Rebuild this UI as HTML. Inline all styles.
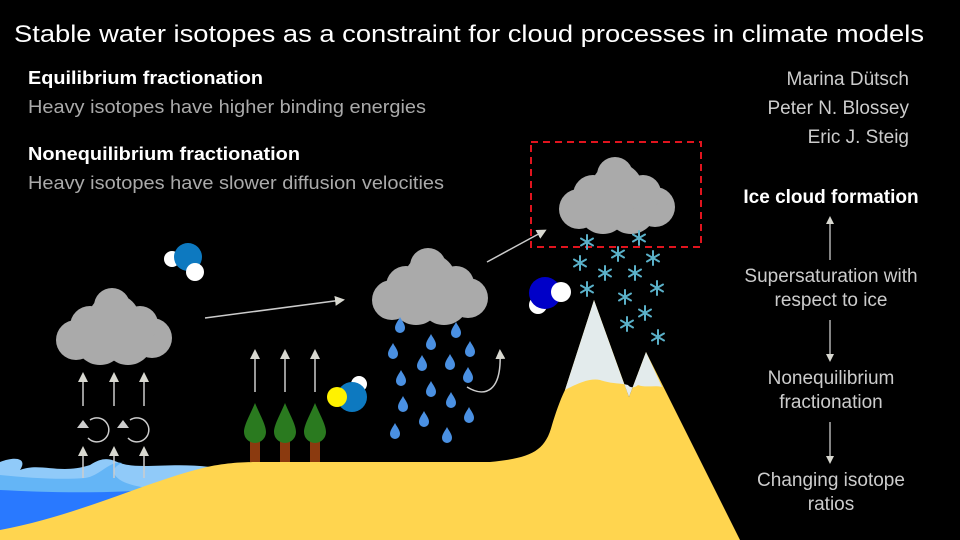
<!DOCTYPE html>
<html><head><meta charset="utf-8"><style>
html,body{margin:0;padding:0;background:#000;width:960px;height:540px;overflow:hidden}
svg{display:block}
text{font-family:"Liberation Sans",Arial,sans-serif}
</style></head><body>
<svg width="960" height="540" viewBox="0 0 960 540" xmlns="http://www.w3.org/2000/svg">
<defs>
<marker id="ah" markerWidth="8" markerHeight="8" refX="6" refY="4" orient="auto" markerUnits="userSpaceOnUse"><path d="M0,0 L8,4 L0,8 Z" fill="#d8d8d0"/></marker>
<marker id="ah2" markerWidth="10" markerHeight="10" refX="7" refY="5" orient="auto" markerUnits="userSpaceOnUse"><path d="M0,0 L10,5 L0,10 Z" fill="#d8d8d0"/></marker>
<g id="cloud" fill="#aaaaaa">
<circle cx="-38" cy="10" r="20"/><circle cx="38" cy="8" r="20"/>
<circle cx="-14" cy="10" r="25"/><circle cx="14" cy="10" r="25"/>
<circle cx="0" cy="-10" r="26"/><circle cx="-24" cy="-4" r="20"/><circle cx="26" cy="-6" r="18"/>
<circle cx="-2" cy="-24" r="18"/>
</g>
<path id="drop" d="M0,-8 C2,-4 5,-1 5,3 A5,5 0 0 1 -5,3 C-5,-1 -2,-4 0,-8Z" fill="#4a90e2"/>
<g id="flake" stroke="#5ab0c8" stroke-width="2" stroke-linecap="round"><line x1="0" y1="-7" x2="0" y2="7"/><line x1="-6" y1="-3.5" x2="6" y2="3.5"/><line x1="-6" y1="3.5" x2="6" y2="-3.5"/></g>
</defs>

<text x="14" y="42" font-size="24" fill="#fff" textLength="910" lengthAdjust="spacingAndGlyphs">Stable water isotopes as a constraint for cloud processes in climate models</text>
<text x="28" y="84" font-size="18" font-weight="bold" fill="#fff" textLength="235" lengthAdjust="spacingAndGlyphs">Equilibrium fractionation</text>
<text x="28" y="113" font-size="18" fill="#aaa" textLength="398" lengthAdjust="spacingAndGlyphs">Heavy isotopes have higher binding energies</text>
<text x="28" y="160" font-size="18" font-weight="bold" fill="#fff" textLength="272" lengthAdjust="spacingAndGlyphs">Nonequilibrium fractionation</text>
<text x="28" y="189" font-size="18" fill="#aaa" textLength="416" lengthAdjust="spacingAndGlyphs">Heavy isotopes have slower diffusion velocities</text>

<g font-size="19" fill="#ccc" text-anchor="end">
<text x="909" y="85">Marina Dütsch</text>
<text x="909" y="114">Peter N. Blossey</text>
<text x="909" y="143">Eric J. Steig</text>
</g>
<g font-size="19" text-anchor="middle" fill="#ccc">
<text x="831" y="203" font-weight="bold" fill="#fff">Ice cloud formation</text>
<text x="831" y="282">Supersaturation with</text>
<text x="831" y="306">respect to ice</text>
<text x="831" y="384">Nonequilibrium</text>
<text x="831" y="408">fractionation</text>
<text x="831" y="486">Changing isotope</text>
<text x="831" y="510">ratios</text>
</g>
<g stroke="#ccc" stroke-width="1.3" fill="none">
<line x1="830" y1="260" x2="830" y2="218" marker-end="url(#ah)"/>
<line x1="830" y1="320" x2="830" y2="360" marker-end="url(#ah)"/>
<line x1="830" y1="422" x2="830" y2="462" marker-end="url(#ah)"/>
</g>

<!-- sea -->
<path d="M0,462 C15,456 28,458 20,470 C40,462 60,475 90,465 C105,455 112,460 120,463 C140,470 170,462 210,467 L210,540 L0,540Z" fill="#90caf9"/>
<path d="M0,475 C30,478 60,480 85,478 C100,476 110,460 122,463 C105,470 115,485 150,488 L150,540 L0,540Z" fill="#64b5f6"/>
<path d="M0,490 C40,492 90,494 150,490 L150,540 L0,540Z" fill="#2979ff"/>

<!-- ground -->
<path d="M0,530 C80,515 150,480 207,467 C230,462 250,462 260,462 L490,462 C530,458 545,452 552,425 C555,415 560,400 565,390 L594,300 L629,397 L646,352 L740,540 L0,540Z" fill="#ffd54f"/>
<path d="M565,390 L594,300 L622,378 L629,397 L646,352 L662,387 C655,385 645,388 638,385 C635,388 630,388 628,385 C620,383 612,384 600,380 C590,378 578,383 565,390Z" fill="#e3ebec"/>

<!-- trees -->
<g>
<rect x="250" y="440" width="10" height="22" fill="#8b3a0f"/><rect x="280" y="440" width="10" height="22" fill="#8b3a0f"/><rect x="310" y="440" width="10" height="22" fill="#8b3a0f"/>
<path d="M255,403 C260,415 266,425 266,432 A11,11 0 0 1 244,432 C244,425 250,415 255,403Z" fill="#2a7a1f"/>
<path d="M285,403 C290,415 296,425 296,432 A11,11 0 0 1 274,432 C274,425 280,415 285,403Z" fill="#2a7a1f"/>
<path d="M315,403 C320,415 326,425 326,432 A11,11 0 0 1 304,432 C304,425 310,415 315,403Z" fill="#2a7a1f"/>
</g>

<!-- clouds -->
<use href="#cloud" transform="translate(114,330)"/>
<use href="#cloud" transform="translate(430,290)"/>
<use href="#cloud" transform="translate(617,199)"/>

<!-- arrows -->
<g stroke="#ccc" stroke-width="1.5" fill="none">
<line x1="83" y1="406" x2="83" y2="375" marker-end="url(#ah2)"/>
<line x1="114" y1="406" x2="114" y2="375" marker-end="url(#ah2)"/>
<line x1="144" y1="406" x2="144" y2="375" marker-end="url(#ah2)"/>
<line x1="83" y1="478" x2="83" y2="449" marker-end="url(#ah2)"/>
<line x1="114" y1="478" x2="114" y2="449" marker-end="url(#ah2)"/>
<line x1="144" y1="478" x2="144" y2="449" marker-end="url(#ah2)"/>
<path d="M90,420 A12,12 0 1 1 88,438"/>
<path d="M130,420 A12,12 0 1 1 128,438"/>
<line x1="255" y1="392" x2="255" y2="352" marker-end="url(#ah2)"/>
<line x1="285" y1="392" x2="285" y2="352" marker-end="url(#ah2)"/>
<line x1="315" y1="392" x2="315" y2="352" marker-end="url(#ah2)"/>
<line x1="205" y1="318" x2="342" y2="300" marker-end="url(#ah2)"/>
<line x1="487" y1="262" x2="544" y2="231" marker-end="url(#ah2)"/>
<path d="M467,387 C485,398 502,392 500,352" marker-end="url(#ah2)"/>
</g>
<g fill="#ccc"><path d="M77,428 L83,420 L89,428Z"/><path d="M117,428 L123,420 L129,428Z"/></g>

<rect x="531" y="142" width="170" height="105" fill="none" stroke="#e0141e" stroke-width="2" stroke-dasharray="7,5"/>

<!-- rain -->
<g>
<use href="#drop" x="400" y="325"/><use href="#drop" x="456" y="330"/><use href="#drop" x="431" y="342"/>
<use href="#drop" x="393" y="351"/><use href="#drop" x="470" y="349"/><use href="#drop" x="422" y="363"/>
<use href="#drop" x="450" y="362"/><use href="#drop" x="401" y="378"/><use href="#drop" x="468" y="375"/>
<use href="#drop" x="431" y="389"/><use href="#drop" x="403" y="404"/><use href="#drop" x="451" y="400"/>
<use href="#drop" x="424" y="419"/><use href="#drop" x="469" y="415"/><use href="#drop" x="395" y="431"/>
<use href="#drop" x="447" y="435"/>
</g>
<!-- snow -->
<g>
<use href="#flake" x="587" y="242"/><use href="#flake" x="639" y="238"/><use href="#flake" x="618" y="254"/>
<use href="#flake" x="653" y="258"/><use href="#flake" x="580" y="263"/><use href="#flake" x="605" y="273"/>
<use href="#flake" x="635" y="273"/><use href="#flake" x="587" y="289"/><use href="#flake" x="657" y="288"/>
<use href="#flake" x="625" y="297"/><use href="#flake" x="645" y="313"/><use href="#flake" x="627" y="324"/>
<use href="#flake" x="658" y="337"/>
</g>

<!-- molecules -->
<circle cx="172" cy="259" r="8" fill="#fff"/>
<circle cx="188" cy="257" r="14" fill="#0d79c0"/>
<circle cx="195" cy="272" r="9" fill="#fff"/>

<circle cx="359" cy="384" r="8" fill="#fff"/>
<circle cx="352" cy="397" r="15" fill="#0d79c0"/>
<circle cx="337" cy="397" r="10" fill="#fff200"/>

<circle cx="538" cy="305" r="9" fill="#fff"/>
<circle cx="545" cy="293" r="16" fill="#0000c8"/>
<circle cx="561" cy="292" r="10" fill="#fff"/>
</svg>
</body></html>
